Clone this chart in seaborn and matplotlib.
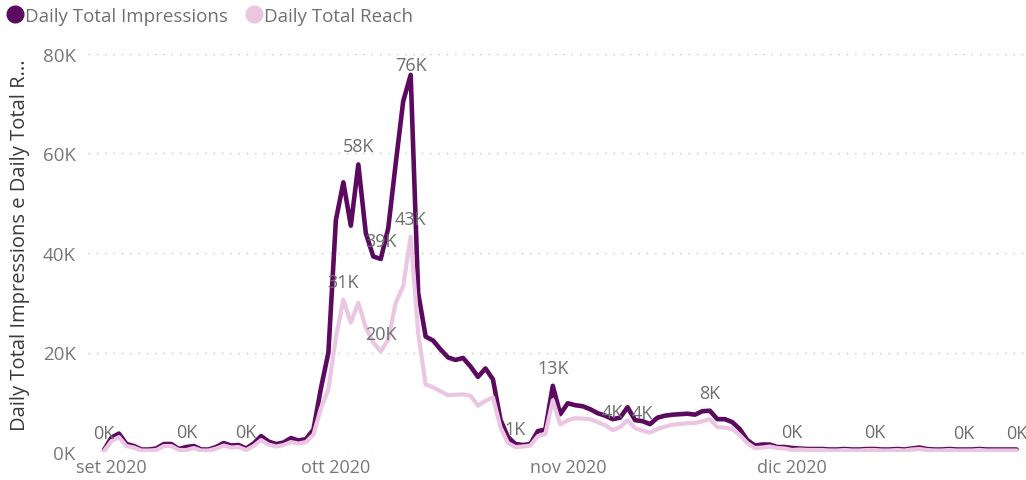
import numpy as np
import pandas as pd
import matplotlib
matplotlib.use("Agg")
import matplotlib.pyplot as plt
import matplotlib.dates as mdates
from matplotlib.lines import Line2D
import seaborn as sns

# Daily values, in thousands, starting 31 Aug 2020
start_date = "2020-08-31"
impressions_k = [
    0.4, 2.9, 3.7, 1.6, 1.2, 0.5, 0.5, 0.7, 1.6, 1.6,
    0.6, 1.0, 1.2, 0.5, 0.5, 1.0, 1.8, 1.3, 1.4, 0.7,
    1.7, 3.2, 2.1, 1.6, 1.9, 2.8, 2.3, 2.6, 4.5, 12.8,
    20.0, 46.6, 54.2, 45.5, 57.8, 44.0, 39.3, 38.8, 45.0, 58.0,
    70.5, 75.8, 32.0, 23.2, 22.4, 20.6, 19.0, 18.5, 18.9, 17.2,
    15.1, 16.8, 14.6, 6.5, 3.0, 1.6, 1.4, 1.6, 4.2, 4.5,
    13.3, 7.6, 9.8, 9.4, 9.2, 8.6, 7.8, 7.3, 6.6, 6.9,
    9.0, 6.4, 6.2, 5.6, 6.9, 7.3, 7.5, 7.6, 7.7, 7.5,
    8.2, 8.3, 6.6, 6.6, 6.0, 4.6, 2.4, 1.3, 1.5, 1.5,
    1.0, 1.0, 0.8, 0.7, 0.6, 0.6, 0.6, 0.5, 0.5, 0.6,
    0.5, 0.5, 0.6, 0.6, 0.5, 0.5, 0.6, 0.5, 0.7, 0.9,
    0.6, 0.5, 0.5, 0.6, 0.5, 0.5, 0.5, 0.6, 0.5, 0.5,
    0.5, 0.5, 0.5,
]
reach_k = [
    0.2, 2.2, 3.0, 1.2, 0.9, 0.3, 0.3, 0.4, 1.2, 1.2,
    0.4, 0.4, 0.8, 0.3, 0.3, 0.7, 1.3, 0.9, 1.0, 0.4,
    1.2, 2.4, 1.5, 1.1, 1.4, 2.0, 1.7, 2.0, 3.5, 8.8,
    12.6, 23.0, 30.6, 26.0, 30.0, 25.0, 22.0, 20.2, 22.6, 30.0,
    33.3, 43.3, 24.0, 13.6, 13.0, 12.2, 11.4, 11.5, 11.6, 11.3,
    9.3, 10.3, 11.0, 5.0, 1.8, 1.0, 1.1, 1.3, 3.2, 3.6,
    10.4, 5.5, 6.4, 6.8, 6.7, 6.6, 6.0, 5.4, 4.4, 5.0,
    6.4, 4.8, 4.3, 3.9, 4.6, 5.1, 5.5, 5.6, 5.8, 5.8,
    6.2, 6.6, 5.0, 4.9, 4.6, 3.4, 1.8, 0.8, 0.9, 1.1,
    0.8, 0.7, 0.4, 0.5, 0.4, 0.4, 0.4, 0.3, 0.3, 0.4,
    0.3, 0.3, 0.4, 0.4, 0.3, 0.3, 0.4, 0.3, 0.5, 0.6,
    0.4, 0.3, 0.3, 0.4, 0.3, 0.3, 0.3, 0.4, 0.3, 0.3,
    0.3, 0.3, 0.3,
]
# Day indices that carry a data label
impressions_label_days = [34, 37, 41, 60, 81]
reach_label_days = [0, 11, 19, 32, 37, 41, 55, 68, 72, 92, 103, 115, 122]

series_names = ["Daily Total Impressions", "Daily Total Reach"]
y_ticks = [0, 20, 40, 60, 80]
month_starts = ["2020-09-01", "2020-10-01", "2020-11-01", "2020-12-01"]
month_labels = ["set 2020", "ott 2020", "nov 2020", "dic 2020"]
y_title = "Daily Total Impressions e Daily Total R..."

dates = pd.date_range(start_date, periods=len(impressions_k), freq="D")
df = pd.DataFrame({"date": dates,
                   series_names[0]: impressions_k,
                   series_names[1]: reach_k})

sns.set_theme(style="white")
plt.rcParams["font.family"] = ["Open Sans", "DejaVu Sans"]

IMP_COLOR = "#5b0a5f"
REACH_COLOR = "#ebc6e3"
TICK_COLOR = "#777777"
LABEL_COLOR = "#6e6e6e"

W, H = 1026, 481
fig = plt.figure(figsize=(W / 100, H / 100), dpi=100)
ax = fig.add_axes([88 / W, 1 - 453 / H, (1024 - 88) / W, (453 - 55) / H])

sns.lineplot(data=df, x="date", y=series_names[0], ax=ax, color=IMP_COLOR,
             linewidth=3.3, solid_joinstyle="round", solid_capstyle="round",
             zorder=3)
sns.lineplot(data=df, x="date", y=series_names[1], ax=ax, color=REACH_COLOR,
             linewidth=3.0, solid_joinstyle="round", solid_capstyle="round",
             zorder=4)

# x range: a little margin on both sides of the data
px_per_day = 7.48
x0 = mdates.date2num(dates[0])
ax.set_xlim(x0 - 16 / px_per_day, x0 + (1024 - 104) / px_per_day)
ax.set_ylim(0, 80)

ax.set_yticks(y_ticks)
ax.set_yticklabels([f"{t}K" for t in y_ticks])
ax.set_xticks(mdates.date2num(pd.to_datetime(month_starts)))
ax.set_xticklabels(month_labels)
ax.tick_params(axis="y", length=0, pad=9, labelsize=13.5, labelcolor=TICK_COLOR)
ax.tick_params(axis="x", length=0, pad=4, labelsize=13, labelcolor=TICK_COLOR)
ax.set_xlabel("")
ax.set_ylabel("")
for s in ax.spines.values():
    s.set_visible(False)
ax.yaxis.grid(True, color="#c4c4c4", linewidth=1.0, linestyle=(0, (1, 5)))
ax.xaxis.grid(False)
ax.set_axisbelow(True)

fig.text(20 / W, 1 - 245 / H, y_title, rotation=90, ha="center", va="center",
         fontsize=14.5, color="#3a3a3a")


def put_label(day, value):
    x = mdates.date2num(dates[day])
    top_px = ax.transData.transform((x, 80))[1]
    pt_px = ax.transData.transform((x, value))[1]
    # sit above the point, but stay inside the top of the plot area
    dy = min(18, top_px - pt_px - 11)
    ax.annotate(f"{value:.0f}K", (x, value), xytext=(0, dy),
                textcoords="offset pixels", ha="center", va="center",
                fontsize=13, color=LABEL_COLOR, zorder=6)


for d in impressions_label_days:
    put_label(d, impressions_k[d])
for d in reach_label_days:
    put_label(d, reach_k[d])

handles = [Line2D([], [], marker="o", linestyle="none", markersize=12,
                  markerfacecolor=c, markeredgecolor=c)
           for c in (IMP_COLOR, REACH_COLOR)]
fig.legend(handles, series_names, loc="upper left",
           bbox_to_anchor=(1 / W, 1 - 4 / H), ncol=2, frameon=False,
           fontsize=13.5, labelcolor="#707070", handletextpad=0.0,
           columnspacing=0.8, handlelength=1.1, borderaxespad=0,
           borderpad=0.2)

fig.savefig("out.png", dpi=100)
